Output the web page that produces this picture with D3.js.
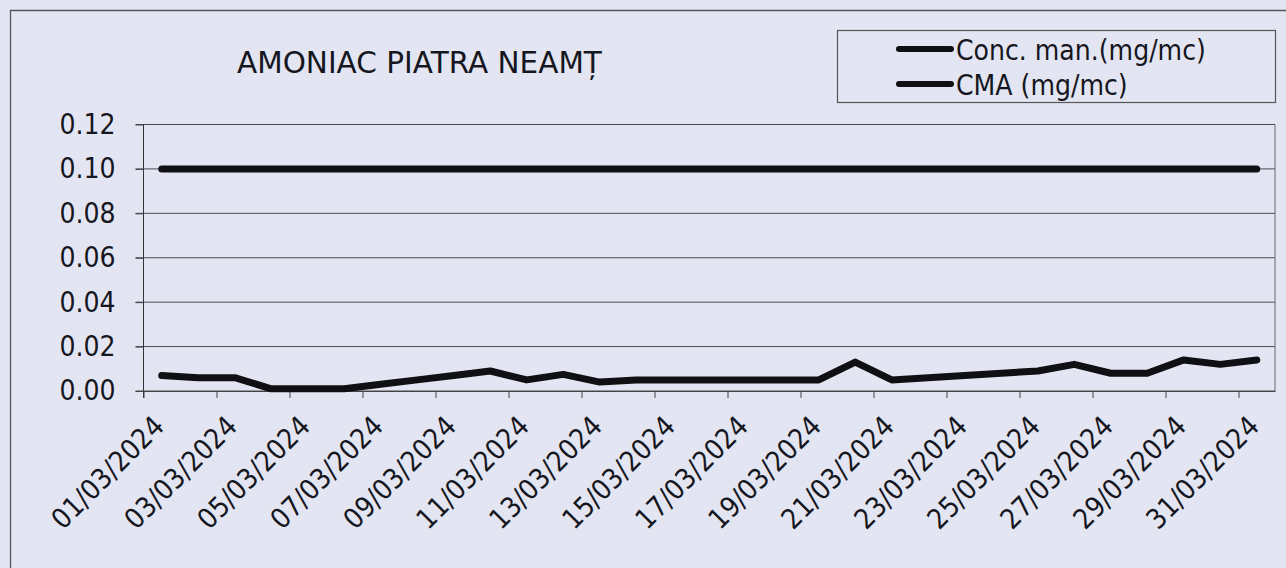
<!DOCTYPE html>
<html>
<head>
<meta charset="utf-8">
<script src="https://cdn.jsdelivr.net/npm/d3@7"></script>
<style>
  html, body { margin: 0; padding: 0; background: #e3e6f2; }
  svg { display: block; }
</style>
</head>
<body>
<script>
// Data
var dates = ["01/03/2024","02/03/2024","03/03/2024","04/03/2024","05/03/2024","06/03/2024",
  "07/03/2024","08/03/2024","09/03/2024","10/03/2024","11/03/2024","12/03/2024","13/03/2024",
  "14/03/2024","15/03/2024","16/03/2024","17/03/2024","18/03/2024","19/03/2024","20/03/2024",
  "21/03/2024","22/03/2024","23/03/2024","24/03/2024","25/03/2024","26/03/2024","27/03/2024",
  "28/03/2024","29/03/2024","30/03/2024","31/03/2024"];

var concMan = [0.007, 0.006, 0.006, 0.001, 0.001, 0.001, 0.003, 0.005, 0.007, 0.009,
  0.005, 0.0075, 0.004, 0.005, 0.005, 0.005, 0.005, 0.005, 0.005, 0.013,
  0.005, 0.006, 0.007, 0.008, 0.009, 0.012, 0.008, 0.008, 0.014, 0.012, 0.014];

var cma = [0.1, 0.1, 0.1, 0.1, 0.1, 0.1, 0.1, 0.1, 0.1, 0.1, 0.1, 0.1, 0.1, 0.1, 0.1, 0.1,
  0.1, 0.1, 0.1, 0.1, 0.1, 0.1, 0.1, 0.1, 0.1, 0.1, 0.1, 0.1, 0.1, 0.1, 0.1];

var yTicks = [0, 0.02, 0.04, 0.06, 0.08, 0.10, 0.12];
var seriesNames = ["Conc. man.(mg/mc)", "CMA (mg/mc)"];
var title = "AMONIAC PIATRA NEAMȚ";

var W = 1286, H = 568;
var plotLeft = 143.5, plotRight = 1275, plotTop = 124.5, plotBottom = 391;
var font = "'DejaVu Sans Condensed', 'DejaVu Sans', sans-serif";
var ink = "#16161e";

var svg = d3.select("body").append("svg")
    .attr("width", W)
    .attr("height", H);

// chart area border (only top and left are inside the picture)
svg.append("path")
    .attr("d", "M10.5," + H + "V10.5H" + W)
    .attr("fill", "none")
    .attr("stroke", "#555")
    .attr("stroke-width", 1.3);

var x = d3.scaleBand()
    .domain(dates)
    .range([plotLeft, plotRight])
    .padding(0);

// index scale, for the tick marks between categories
var xi = d3.scaleLinear()
    .domain([0, dates.length])
    .range([plotLeft, plotRight]);

var y = d3.scaleLinear()
    .domain([0, 0.12])
    .range([plotBottom, plotTop]);

// gridlines
svg.append("g")
    .selectAll("line")
    .data(yTicks)
    .join("line")
    .attr("x1", plotLeft - 8)
    .attr("x2", plotRight)
    .attr("y1", function(d) { return y(d); })
    .attr("y2", function(d) { return y(d); })
    .attr("stroke", "#4a4a55")
    .attr("stroke-width", 1);

// right border of plot
svg.append("line")
    .attr("x1", plotRight).attr("x2", plotRight)
    .attr("y1", plotTop).attr("y2", plotBottom)
    .attr("stroke", "#666")
    .attr("stroke-width", 1);

// y axis
var yAxis = svg.append("g")
    .attr("transform", "translate(" + plotLeft + ",0)")
    .call(d3.axisLeft(y)
        .tickValues(yTicks)
        .tickSizeInner(8)
        .tickSizeOuter(0)
        .tickPadding(20)
        .tickFormat(d3.format(".2f")));
yAxis.select(".domain").attr("stroke", "#333").attr("d", "M0," + plotTop + "V" + (plotBottom + 7));
yAxis.selectAll(".tick line").attr("stroke", "#444");
yAxis.selectAll("text")
    .attr("fill", ink)
    .style("font-family", font)
    .style("font-size", "28px");

// x axis
var xAxis = svg.append("g")
    .attr("transform", "translate(0," + plotBottom + ")")
    .call(d3.axisBottom(xi)
        .tickValues(d3.range(0, dates.length, 2))
        .tickSizeInner(7)
        .tickSizeOuter(0)
        .tickFormat(""));
xAxis.select(".domain").attr("stroke", "#444");
xAxis.selectAll(".tick line").attr("stroke", "#444");

svg.append("g")
    .selectAll("text")
    .data(dates.filter(function(d, i) { return i % 2 === 0; }))
    .join("text")
    .attr("transform", function(d) {
        return "translate(" + (x(d) + x.bandwidth() / 2 + 4) + ",428) rotate(-45)";
    })
    .attr("text-anchor", "end")
    .attr("fill", ink)
    .style("font-family", font)
    .style("font-size", "28px")
    .text(function(d) { return d; });

// lines
var line = d3.line()
    .x(function(d, i) { return x(dates[i]) + x.bandwidth() / 2; })
    .y(function(d) { return y(d); });

[cma, concMan].forEach(function(s) {
    svg.append("path")
        .datum(s)
        .attr("fill", "none")
        .attr("stroke", "#101014")
        .attr("stroke-width", 7)
        .attr("stroke-linejoin", "round")
        .attr("stroke-linecap", "round")
        .attr("d", line);
});

// title
svg.append("text")
    .attr("x", 237)
    .attr("y", 73)
    .attr("fill", ink)
    .style("font-family", "'DejaVu Sans', sans-serif")
    .style("font-size", "29.5px")
    .text(title);

// legend
var legend = svg.append("g");
legend.append("rect")
    .attr("x", 837.5).attr("y", 30.5)
    .attr("width", 438).attr("height", 72)
    .attr("fill", "none")
    .attr("stroke", "#555")
    .attr("stroke-width", 1.2);

var legendY = [49, 84];
seriesNames.forEach(function(name, i) {
    legend.append("line")
        .attr("x1", 899).attr("x2", 951)
        .attr("y1", legendY[i]).attr("y2", legendY[i])
        .attr("stroke", "#101014")
        .attr("stroke-width", 6)
        .attr("stroke-linecap", "round");
    legend.append("text")
        .attr("x", 956)
        .attr("y", legendY[i] + 11)
        .attr("fill", ink)
        .style("font-family", font)
        .style("font-size", "28px")
        .text(name);
});
</script>
</body>
</html>
